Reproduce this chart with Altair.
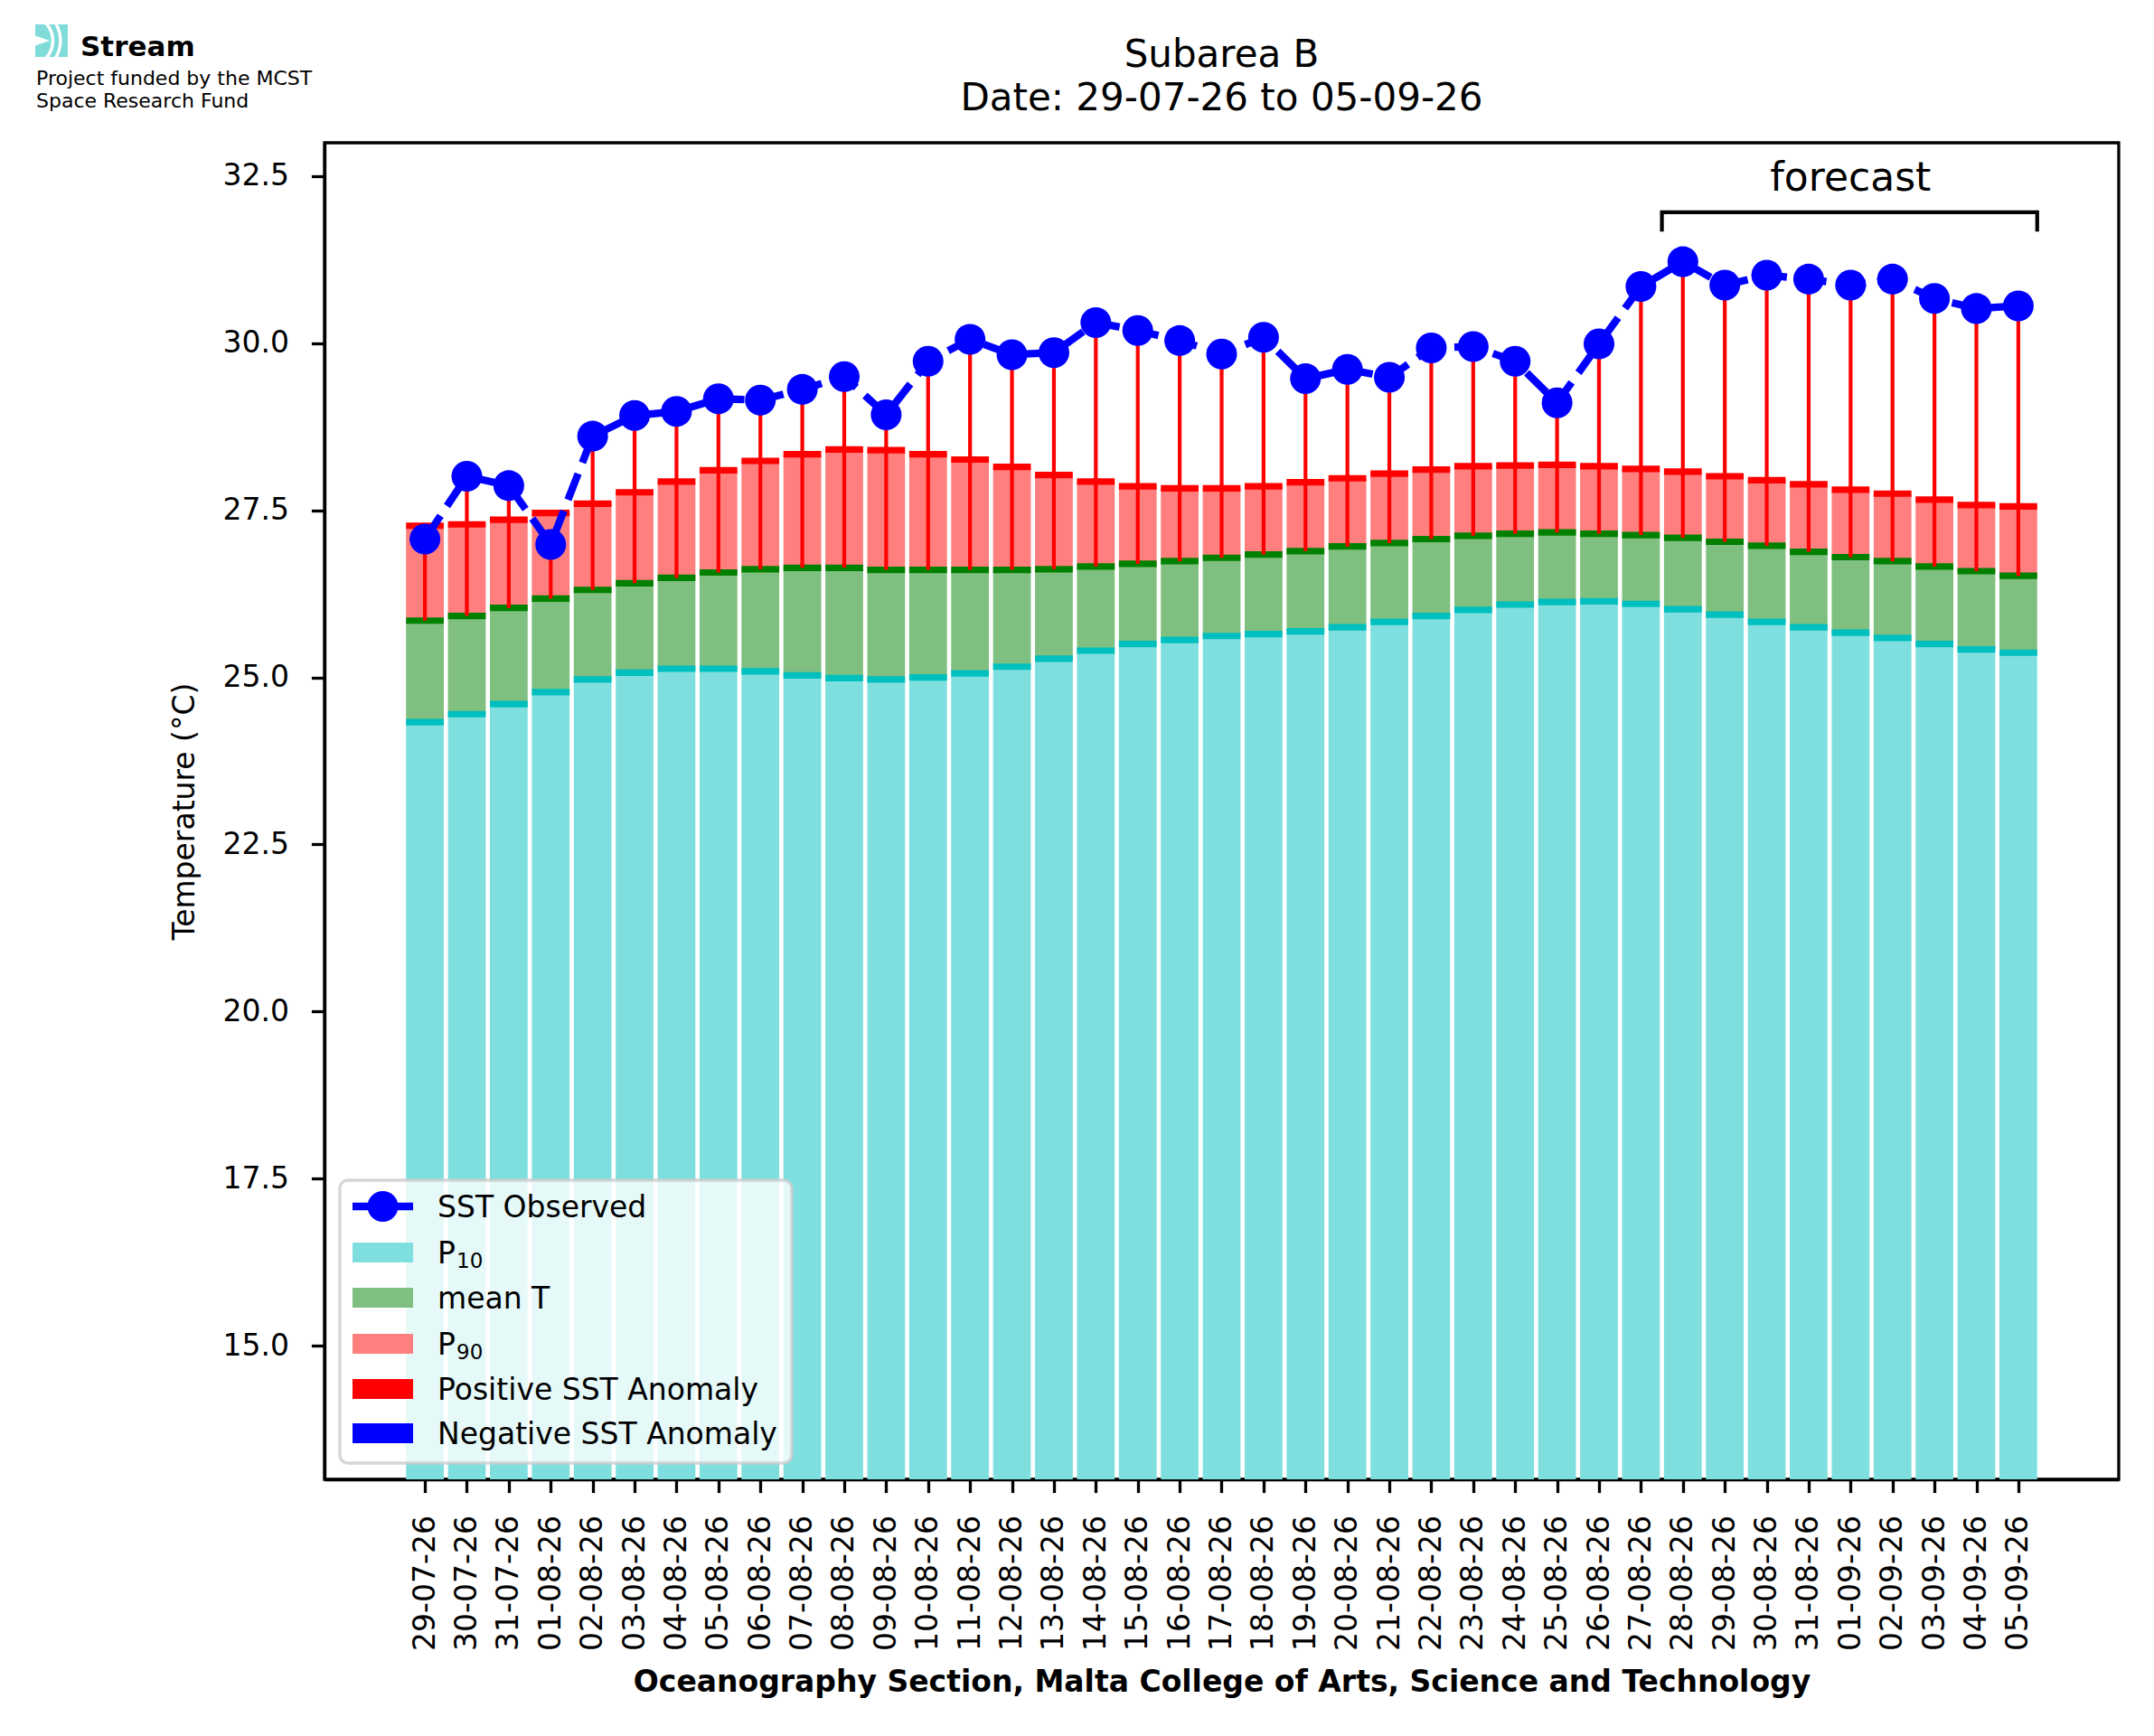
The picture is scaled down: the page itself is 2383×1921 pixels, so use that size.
import altair as alt
import pandas as pd

DATES = [
    "29-07-26", "30-07-26", "31-07-26", "01-08-26", "02-08-26", "03-08-26",
    "04-08-26", "05-08-26", "06-08-26", "07-08-26", "08-08-26", "09-08-26",
    "10-08-26", "11-08-26", "12-08-26", "13-08-26", "14-08-26", "15-08-26",
    "16-08-26", "17-08-26", "18-08-26", "19-08-26", "20-08-26", "21-08-26",
    "22-08-26", "23-08-26", "24-08-26", "25-08-26", "26-08-26", "27-08-26",
    "28-08-26", "29-08-26", "30-08-26", "31-08-26", "01-09-26", "02-09-26",
    "03-09-26", "04-09-26", "05-09-26",
]
SST = [
    27.07, 28.01, 27.87, 26.99, 28.61, 28.92, 28.98, 29.17, 29.15, 29.31,
    29.50, 28.93, 29.73, 30.06, 29.83, 29.86, 30.31, 30.19, 30.04, 29.84,
    30.09, 29.47, 29.61, 29.49, 29.93, 29.95, 29.73, 29.11, 29.99, 30.85,
    31.22, 30.87, 31.02, 30.96, 30.87, 30.96, 30.67, 30.52, 30.56,
]
P10 = [
    24.33, 24.45, 24.60, 24.78, 24.97, 25.07, 25.13, 25.13, 25.09, 25.03,
    24.99, 24.97, 25.00, 25.06, 25.16, 25.28, 25.40, 25.50, 25.56, 25.62,
    25.65, 25.69, 25.75, 25.83, 25.92, 26.01, 26.09, 26.13, 26.14, 26.10,
    26.02, 25.94, 25.83, 25.75, 25.67, 25.59, 25.50, 25.42, 25.37,
]
MEAN_T = [
    25.85, 25.92, 26.04, 26.18, 26.31, 26.41, 26.49, 26.57, 26.62, 26.64,
    26.64, 26.61, 26.61, 26.61, 26.61, 26.62, 26.66, 26.70, 26.74, 26.79,
    26.84, 26.89, 26.96, 27.01, 27.07, 27.12, 27.15, 27.17, 27.15, 27.13,
    27.09, 27.03, 26.97, 26.88, 26.80, 26.74, 26.66, 26.59, 26.52,
]
P90 = [
    27.27, 27.29, 27.36, 27.46, 27.60, 27.77, 27.93, 28.10, 28.24, 28.34,
    28.41, 28.40, 28.34, 28.26, 28.15, 28.03, 27.93, 27.86, 27.83, 27.83,
    27.86, 27.92, 27.98, 28.05, 28.11, 28.16, 28.17, 28.18, 28.16, 28.12,
    28.08, 28.01, 27.95, 27.89, 27.81, 27.75, 27.66, 27.58, 27.56,
]
# (main text, subscript) for each legend row
LEGEND_LABELS = [("SST Observed", ""), ("P", "10"), ("mean T", ""), ("P", "90"),
                 ("Positive SST Anomaly", ""), ("Negative SST Anomaly", "")]
LEGEND_COLORS = ["#0000ff", "#7fdfdf", "#7fbf7f", "#ff7f7f", "#ff0000", "#0000ff"]

TITLE_LINES = ["Subarea B", "Date: 29-07-26 to 05-09-26"]
X_TITLE = "Oceanography Section, Malta College of Arts, Science and Technology"
Y_TITLE = "Temperature (°C)"
LOGO_NAME = "Stream"
LOGO_LINES = ["Project funded by the MCST", "Space Research Fund"]

FC_START, FC_END = 29.5, 38.45
FC_LEVEL, FC_TICK = 31.96, 31.67
FC_TEXT_X, FC_TEXT_Y = 34.0, 32.29

W, H = 1985, 1479
FONT = "DejaVu Sans"
LW = 4.2
BAR_HALF = 0.45

df = pd.DataFrame({
    "idx": list(range(len(DATES))),
    "date": DATES,
    "sst": SST,
    "p10": P10,
    "mean": MEAN_T,
    "p90": P90,
})

xs = alt.Scale(domain=[-2.395, 40.395], nice=False, zero=False)
ys = alt.Scale(domain=[13, 33], nice=False, zero=False)

date_array = "[" + ",".join(f"'{d}'" for d in DATES) + "]"
x_axis = alt.Axis(
    values=list(range(len(DATES))),
    labelExpr=f"{date_array}[datum.value]",
    labelAngle=270, labelAlign="right", labelBaseline="middle",
    labelOverlap=False, labelFlush=False, labelPadding=25,
    title=X_TITLE, titleFontWeight="bold", titleFontSize=33, titlePadding=19,
    grid=False,
)
y_axis = alt.Axis(
    values=[15, 17.5, 20, 22.5, 25, 27.5, 30, 32.5], format=".1f",
    labelPadding=25, title=Y_TITLE, titleFontWeight="normal",
    titleFontSize=33, titlePadding=24, grid=False,
)


def X(field):
    return alt.X(field, scale=xs, axis=x_axis)


def Y(field):
    return alt.Y(field, scale=ys, axis=y_axis)


base = alt.Chart(df).transform_calculate(
    lo=f"datum.idx - {BAR_HALF}", hi=f"datum.idx + {BAR_HALF}"
)

bars_p10 = base.mark_rect(color="#7fdfdf").encode(
    x=X("lo:Q"), x2="hi:Q", y=Y("p10:Q"), y2=alt.datum(13))
bars_mean = base.mark_rect(color="#7fbf7f").encode(
    x=X("lo:Q"), x2="hi:Q", y=Y("mean:Q"), y2="p10:Q")
bars_p90 = base.mark_rect(color="#ff7f7f").encode(
    x=X("lo:Q"), x2="hi:Q", y=Y("p90:Q"), y2="mean:Q")

strip_p10 = base.mark_rule(color="#00bfbf", strokeWidth=7.2).encode(
    x=X("lo:Q"), x2="hi:Q", y=Y("p10:Q"))
strip_mean = base.mark_rule(color="#008000", strokeWidth=7.2).encode(
    x=X("lo:Q"), x2="hi:Q", y=Y("mean:Q"))
strip_p90 = base.mark_rule(color="#ff0000", strokeWidth=7.2).encode(
    x=X("lo:Q"), x2="hi:Q", y=Y("p90:Q"))

anomaly = base.mark_rule(strokeWidth=LW).encode(
    x=X("idx:Q"), y=Y("mean:Q"), y2="sst:Q",
    color=alt.when(alt.datum.sst >= alt.datum.mean)
    .then(alt.value("#ff0000"))
    .otherwise(alt.value("#0000ff")),
)

sst_line = base.mark_line(color="#0000ff", strokeWidth=8.3, strokeDash=[31, 13]).encode(
    x=X("idx:Q"), y=Y("sst:Q"))
sst_dots = base.mark_point(filled=True, color="#0000ff", size=1160, opacity=1).encode(
    x=X("idx:Q"), y=Y("sst:Q"))

bracket_df = pd.DataFrame({
    "bx": [FC_START, FC_START, FC_END, FC_END],
    "by": [FC_TICK, FC_LEVEL, FC_LEVEL, FC_TICK],
    "o": [0, 1, 2, 3],
})
bracket = alt.Chart(bracket_df).mark_line(
    color="black", strokeWidth=LW, strokeJoin="miter", strokeCap="butt"
).encode(x=X("bx:Q"), y=Y("by:Q"), order="o:Q")

one = alt.Data(values=[{}])
forecast = alt.Chart(one).mark_text(
    text="forecast", fontSize=44, align="center", baseline="alphabetic", color="black"
).encode(x=alt.datum(FC_TEXT_X, scale=xs), y=alt.datum(FC_TEXT_Y, scale=ys))


def label(text, x, y, size, weight="normal", align="left", baseline="alphabetic"):
    return alt.Chart(one).mark_text(
        text=text, fontSize=size, fontWeight=weight, align=align,
        baseline=baseline, color="black", font=FONT,
    ).encode(x=alt.value(x), y=alt.value(y))


def box(x1, x2, y1, y2, color, **kw):
    return alt.Chart(one).mark_rect(color=color, **kw).encode(
        x=alt.value(x1), x2=alt.value(x2), y=alt.value(y1), y2=alt.value(y2))


def ring(r1, r2):
    return alt.Chart(one).mark_arc(
        theta=0.55, theta2=2.59, radius=r1, radius2=r2, color="white"
    ).encode(x=alt.value(-329), y=alt.value(-113))


# title
titles = [label(TITLE_LINES[0], W / 2, -84, 42, align="center"),
          label(TITLE_LINES[1], W / 2, -36, 42, align="center")]

# logo
logo = [
    box(-320, -284, -131, -95, "#7fdcd8"),
    ring(26.7, 30.2),
    ring(35.2, 38.6),
    alt.Chart(one).mark_point(
        shape="M-1,-0.7L1,0L-1,0.7Z", filled=True, color="white", size=256, opacity=1
    ).encode(x=alt.value(-312), y=alt.value(-113)),
    box(-330, -320, -135, -90, "white"),
    label(LOGO_NAME, -270, -96, 31, weight="bold"),
    label(LOGO_LINES[0], -319, -64, 22),
    label(LOGO_LINES[1], -319, -39, 22),
]

# legend
ROW_Y = [1177, 1228, 1278, 1329, 1379, 1428]
legend = [box(17, 517, 1148, 1461, "white", fillOpacity=0.8, stroke="#cccccc",
              strokeOpacity=0.8, strokeWidth=3.3, cornerRadius=9)]
for i, ((txt, sub), col) in enumerate(zip(LEGEND_LABELS, LEGEND_COLORS)):
    ry = ROW_Y[i]
    if i == 0:
        legend.append(alt.Chart(one).mark_rule(color=col, strokeWidth=8.3).encode(
            x=alt.value(31), x2=alt.value(98), y=alt.value(ry)))
        legend.append(alt.Chart(one).mark_point(
            filled=True, color=col, size=1160, opacity=1, shape="circle"
        ).encode(x=alt.value(64.5), y=alt.value(ry)))
    else:
        legend.append(box(31, 98, ry - 11, ry + 11, col))
    legend.append(label(txt, 125, ry + 12, 33))
    if sub:
        legend.append(label(sub, 146, ry + 17, 23))

chart = alt.layer(
    bars_p10, bars_mean, bars_p90, strip_p10, strip_mean, strip_p90,
    anomaly, sst_line, sst_dots, bracket, forecast,
    *titles, *logo, *legend,
).properties(
    width=W, height=H,
    autosize=alt.AutoSizeParams(type="none"),
    padding={"left": 351, "top": 150, "right": 31, "bottom": 276},
).configure(
    font=FONT, background="white",
).configure_view(
    stroke="black", strokeWidth=3.3,
).configure_axis(
    labelFont=FONT, titleFont=FONT, labelFontSize=33, labelColor="black",
    titleColor="black", domainColor="black", domainWidth=3.3,
    tickColor="black", tickWidth=3.3, tickSize=14.6,
)

chart.save("out.html", embed_options={"renderer": "svg", "actions": False})
